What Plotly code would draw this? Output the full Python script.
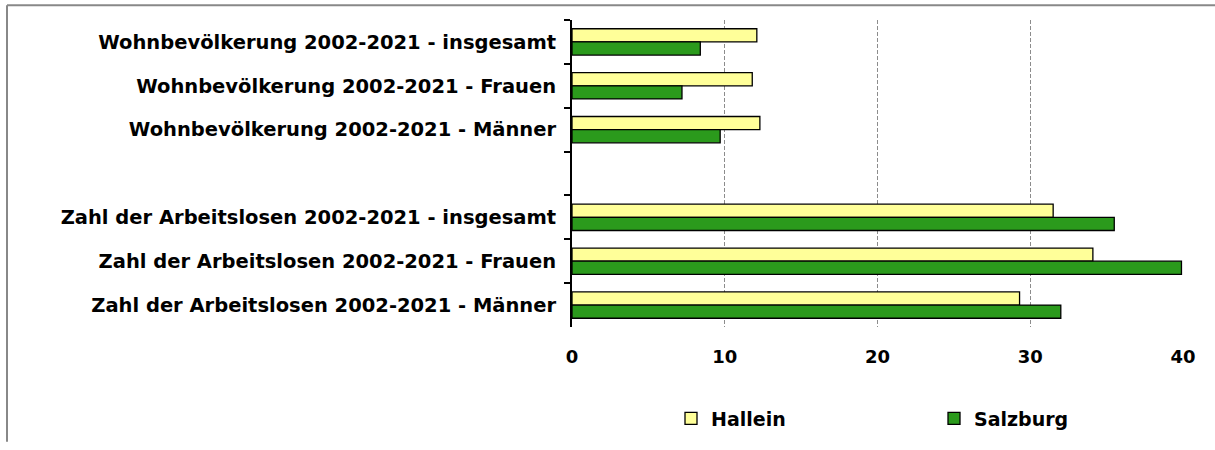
import plotly.graph_objects as go

categories = [
    "Wohnbevölkerung 2002-2021 - insgesamt",
    "Wohnbevölkerung 2002-2021 - Frauen",
    "Wohnbevölkerung 2002-2021 - Männer",
    " ",
    "Zahl der Arbeitslosen 2002-2021 - insgesamt",
    "Zahl der Arbeitslosen 2002-2021 - Frauen",
    "Zahl der Arbeitslosen 2002-2021 - Männer",
]
hallein = [12.1, 11.8, 12.3, None, 31.5, 34.1, 29.3]
salzburg = [8.4, 7.2, 9.7, None, 35.5, 39.9, 32.0]
x_ticks = [0, 10, 20, 30, 40]

W, H = 1215, 450
PL, PR, PT, PB = 572, 1183, 20, 333

def px_x(p):
    return (p - PL) / (PR - PL)

def px_y(p):
    return (PB - p) / (PB - PT)

fig = go.Figure()
fig.add_trace(go.Bar(
    name="Hallein", y=categories, x=hallein, orientation="h",
    marker=dict(color="#FFFF99", line=dict(color="#000000", width=1.3)),
))
fig.add_trace(go.Bar(
    name="Salzburg", y=categories, x=salzburg, orientation="h",
    marker=dict(color="#2B9A1C", line=dict(color="#000000", width=1.3)),
))

fig.update_layout(
    width=W, height=H,
    margin=dict(l=PL, r=W - PR, t=PT, b=H - PB, pad=0),
    paper_bgcolor="#FFFFFF", plot_bgcolor="#FFFFFF",
    barmode="group", bargap=0.40, bargroupgap=0.0,
    font=dict(family="DejaVu Sans", size=19, color="#000000", weight="bold"),
    showlegend=True,
    legend=dict(
        orientation="h", x=px_x(671), y=px_y(407), xanchor="left", yanchor="top",
        entrywidth=218, entrywidthmode="pixels",
        font=dict(family="DejaVu Sans", size=19, color="#000000", weight="bold"),
        traceorder="normal", bgcolor="rgba(0,0,0,0)",
    ),
    xaxis=dict(
        range=[0, 40], tickvals=x_ticks, ticktext=[str(v) for v in x_ticks],
        showgrid=True, gridcolor="#8C8C8C", griddash="4px,2px", gridwidth=1,
        zeroline=False, showline=False, ticks="", ticklabelstandoff=17,
        tickfont=dict(family="DejaVu Sans", size=18, color="#000000", weight="bold"),
    ),
    yaxis=dict(
        type="category", categoryorder="array", categoryarray=categories,
        autorange="reversed", showgrid=False, zeroline=False,
        showline=True, linecolor="#000000", linewidth=2,
        ticks="outside", ticklen=6, tickwidth=2, tickcolor="#000000",
        tickson="boundaries", ticklabelstandoff=10,
        tickfont=dict(family="DejaVu Sans", size=19.5, color="#000000", weight="bold"),
    ),
    shapes=[
        dict(type="line", xref="paper", yref="paper",
             x0=px_x(7), x1=px_x(1215), y0=px_y(5), y1=px_y(5),
             line=dict(color="#888888", width=2)),
        dict(type="line", xref="paper", yref="paper",
             x0=px_x(7), x1=px_x(7), y0=px_y(5), y1=px_y(450),
             line=dict(color="#888888", width=2)),
    ],
)

fig.write_html("out.html", config={"displayModeBar": False},
               post_script="document.body.style.margin='0px';")
